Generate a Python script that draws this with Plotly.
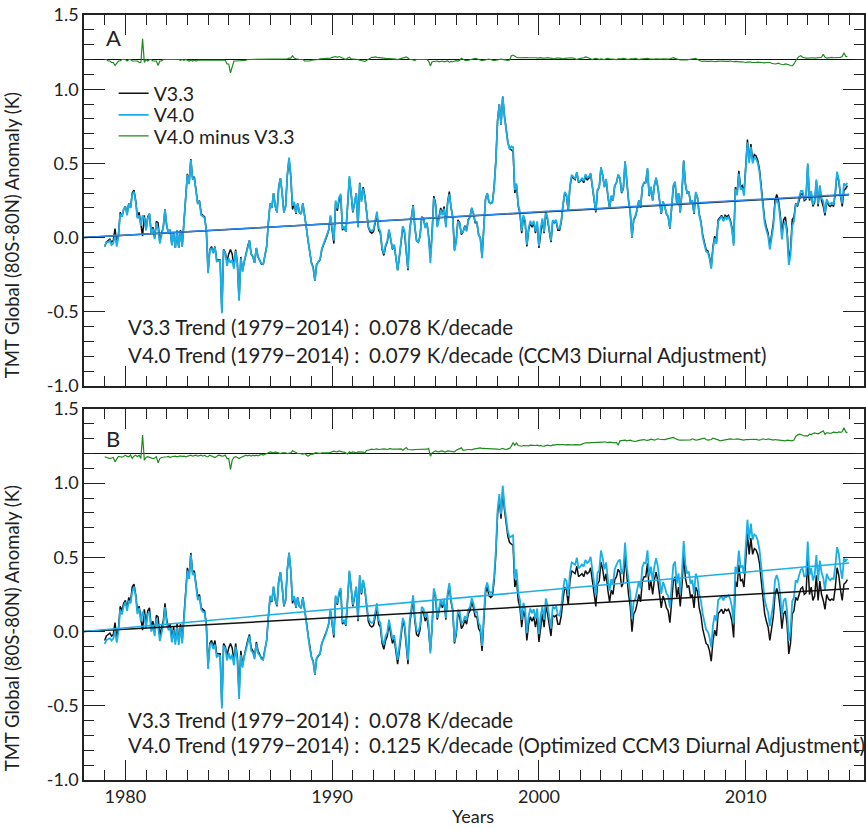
import numpy as np
import plotly.graph_objects as go

# ---------------------------------------------------------------------------
# Monthly TMT global (80S-80N) anomalies, Jan 1979 - Dec 2014 (K)
# ---------------------------------------------------------------------------
FIRST_YEAR = 1979

v33 = [
    -0.06, -0.03, -0.02, -0.01, -0.03, -0.02, 0.06, -0.04, 0.02, 0.17, 0.14, 0.19,   # 1979
    0.21, 0.16, 0.23, 0.20, 0.30, 0.32, 0.25, 0.14, 0.17, 0.10, 0.01, 0.15,          # 1980
    0.05, 0.14, 0.16, 0.03, 0.07, 0.00, 0.11, 0.10, -0.03, 0.03, 0.07, 0.19,         # 1981
    0.08, 0.03, 0.05, -0.05, 0.03, -0.07, 0.05, -0.07, 0.05, -0.06, 0.12, 0.23,      # 1982
    0.43, 0.37, 0.53, 0.40, 0.41, 0.32, 0.23, 0.25, 0.16, 0.15, 0.14, 0.05,          # 1983
    -0.23, -0.08, -0.06, -0.10, -0.06, -0.15, -0.15, -0.15, -0.50, -0.08, -0.10, -0.16,  # 1984
    -0.11, -0.08, -0.11, -0.20, -0.08, -0.17, -0.42, -0.13, -0.22, -0.15, -0.11, -0.06,  # 1985
    -0.02, -0.11, -0.13, -0.17, -0.07, -0.13, -0.15, -0.18, -0.18, -0.12, -0.06, 0.10,   # 1986
    0.23, 0.20, 0.30, 0.21, 0.17, 0.34, 0.40, 0.30, 0.17, 0.21, 0.42, 0.53,          # 1987
    0.41, 0.19, 0.23, 0.16, 0.23, 0.17, 0.16, 0.23, 0.16, 0.07, -0.02, -0.10,        # 1988
    -0.17, -0.20, -0.29, -0.18, -0.16, -0.15, -0.08, -0.05, -0.03, 0.01, 0.05, 0.14, # 1989
    0.05, -0.04, 0.23, 0.18, 0.25, 0.28, 0.05, 0.07, 0.04, 0.23, 0.40, 0.30,         # 1990
    0.17, 0.23, 0.30, 0.07, 0.37, 0.25, 0.34, 0.28, 0.16, 0.07, 0.04, 0.03,          # 1991
    0.04, 0.10, 0.16, 0.05, 0.03, -0.08, -0.12, -0.06, -0.03, 0.05, -0.02, -0.08,    # 1992
    -0.05, -0.15, -0.22, -0.13, -0.02, 0.07, 0.03, -0.11, -0.22, 0.05, 0.14, 0.22,   # 1993
    0.07, -0.02, -0.03, 0.01, 0.14, 0.13, 0.07, 0.10, 0.01, -0.13, 0.03, 0.28,       # 1994
    0.23, 0.08, 0.14, 0.20, 0.16, 0.21, 0.08, 0.24, 0.31, 0.20, 0.14, -0.08,         # 1995
    -0.02, 0.12, 0.10, 0.02, 0.04, 0.08, 0.05, 0.12, 0.14, 0.20, 0.16, 0.10,         # 1996
    0.10, 0.02, 0.00, -0.13, 0.07, 0.26, 0.30, 0.24, 0.23, 0.24, 0.34, 0.52,         # 1997
    0.79, 0.90, 0.76, 0.95, 0.82, 0.74, 0.64, 0.60, 0.59, 0.58, 0.30, 0.35,          # 1998
    0.21, 0.16, 0.03, 0.14, 0.10, -0.06, 0.05, 0.10, 0.07, 0.10, 0.03, 0.10,         # 1999
    -0.07, 0.05, 0.12, 0.03, 0.17, 0.12, 0.05, -0.03, 0.11, 0.10, 0.11, 0.05,        # 2000
    0.05, 0.11, 0.22, 0.30, 0.28, 0.18, 0.34, 0.41, 0.40, 0.39, 0.44, 0.37,          # 2001
    0.38, 0.39, 0.37, 0.41, 0.39, 0.40, 0.43, 0.34, 0.23, 0.17, 0.32, 0.34,          # 2002
    0.47, 0.42, 0.34, 0.39, 0.28, 0.20, 0.28, 0.25, 0.35, 0.37, 0.42, 0.40,          # 2003
    0.30, 0.33, 0.51, 0.35, 0.25, 0.17, 0.00, 0.12, 0.14, 0.19, 0.25, 0.20,          # 2004
    0.34, 0.37, 0.37, 0.46, 0.28, 0.34, 0.25, 0.35, 0.40, 0.34, 0.25, 0.16,          # 2005
    0.24, 0.21, 0.16, 0.14, 0.06, 0.23, 0.34, 0.37, 0.23, 0.30, 0.17, 0.31,          # 2006
    0.52, 0.36, 0.30, 0.31, 0.23, 0.25, 0.16, 0.30, 0.27, 0.16, 0.11, 0.02,          # 2007
    -0.03, -0.08, -0.09, -0.13, -0.20, -0.06, 0.01, -0.03, 0.12, 0.14, 0.15, 0.12,   # 2008
    0.15, 0.14, 0.15, 0.12, 0.07, -0.04, 0.34, 0.30, 0.45, 0.34, 0.35, 0.30,         # 2009
    0.50, 0.66, 0.52, 0.63, 0.52, 0.56, 0.55, 0.52, 0.46, 0.34, 0.25, 0.12,          # 2010
    0.07, 0.03, -0.06, 0.03, 0.10, 0.25, 0.29, 0.25, 0.16, 0.02, 0.12, 0.14,         # 2011
    0.05, -0.15, -0.08, 0.12, 0.14, 0.23, 0.21, 0.25, 0.29, 0.30, 0.25, 0.26,        # 2012
    0.49, 0.25, 0.30, 0.21, 0.24, 0.38, 0.21, 0.34, 0.25, 0.21, 0.15, 0.25,          # 2013
    0.22, 0.21, 0.22, 0.21, 0.30, 0.43, 0.38, 0.28, 0.21, 0.32, 0.33, 0.35,          # 2014
]

# V4.0 minus V3.3, CCM3 diurnal adjustment (panel A)
diff_ccm3 = [
    0.0, 0.0, -0.01, -0.01, -0.02, -0.02, -0.04, -0.02, -0.01, -0.01, 0.0, 0.0,       # 1979
    0.0, -0.01, 0.0, 0.0, -0.01, -0.01, -0.01, -0.01, -0.02, -0.02, 0.14, -0.02,      # 1980
    0.0, -0.01, 0.0, 0.0, -0.01, -0.01, -0.01, -0.04, -0.01, -0.01, 0.0, 0.0,         # 1981
    0.0, 0.0, 0.005, 0.0, 0.005, 0.0, 0.0, 0.0, -0.005, 0.0, -0.005, 0.0,             # 1982
    -0.005, -0.01, -0.005, -0.01, -0.005, -0.01, -0.005, -0.005, -0.01, -0.005, -0.01, -0.005,  # 1983
    -0.01, -0.005, -0.01, -0.005, -0.005, -0.01, -0.005, -0.005, -0.01, -0.005, -0.005, -0.03,  # 1984
    -0.03, -0.09, -0.04, -0.01, -0.01, -0.01, -0.005, -0.01, -0.01, -0.005, -0.005, 0.0,        # 1985
    0.0, 0.0, 0.005, 0.0, 0.0, 0.0, 0.0, 0.005, 0.0, 0.0, 0.0, 0.005,                 # 1986
    0.0, 0.0, 0.0, 0.0, 0.0, 0.0, 0.0, 0.0, 0.0, 0.0, 0.005, 0.01,                    # 1987
    0.01, 0.025, 0.01, 0.005, 0.0, 0.0, 0.0, 0.0, -0.01, -0.01, -0.015, -0.01,        # 1988
    -0.005, -0.005, 0.0, 0.0, 0.0, 0.005, 0.005, 0.005, 0.01, 0.01, 0.005, 0.01,      # 1989
    0.015, 0.02, 0.02, 0.015, 0.02, 0.015, 0.01, 0.005, 0.0, 0.01, 0.015, 0.005,      # 1990
    0.005, 0.005, 0.0, 0.0, -0.005, -0.01, -0.01, -0.013, -0.005, 0.005, 0.01, 0.015, # 1991
    0.015, 0.018, 0.015, 0.015, 0.012, 0.01, 0.01, 0.008, 0.008, 0.005, 0.005, 0.005, # 1992
    0.003, 0.003, 0.0, 0.003, 0.005, 0.008, 0.015, 0.018, 0.01, 0.0, 0.0, -0.005,     # 1993
    -0.005, 0.0, 0.0, 0.0, -0.005, 0.0, -0.005, 0.0, -0.01, -0.043, -0.015, -0.012,   # 1994
    -0.013, -0.01, -0.015, -0.012, -0.01, -0.015, -0.012, -0.01, -0.018, -0.013, -0.015, -0.01,  # 1995
    -0.008, -0.01, -0.005, 0.008, 0.0, -0.005, -0.008, -0.005, -0.002, 0.0, 0.005, 0.008,        # 1996
    0.005, 0.0, -0.005, -0.008, -0.005, -0.002, 0.0, 0.002, 0.0, -0.005, -0.008, -0.005,         # 1997
    -0.005, 0.0, 0.002, 0.0, -0.005, -0.008, -0.005, -0.003, 0.025, 0.03, 0.02, 0.015,           # 1998
    0.012, 0.013, 0.013, 0.012, 0.015, 0.013, 0.012, 0.013, 0.015, 0.013, 0.012, 0.01,  # 1999
    0.012, 0.013, 0.01, 0.008, 0.01, 0.013, 0.012, 0.01, 0.008, 0.005, 0.01, 0.012,    # 2000
    0.01, 0.008, 0.005, 0.008, 0.01, 0.008, 0.01, 0.012, 0.01, 0.005, 0.0, 0.005,      # 2001
    0.005, 0.01, 0.012, 0.018, 0.015, 0.01, 0.005, 0.0, 0.005, 0.008, 0.005, 0.0,      # 2002
    0.005, 0.003, 0.0, 0.005, 0.008, 0.005, 0.003, 0.005, 0.003, 0.0, 0.005, 0.003,   # 2003
    0.005, 0.008, 0.005, 0.003, 0.0, 0.005, 0.003, 0.005, 0.008, 0.003, 0.0, 0.003,   # 2004
    0.005, 0.003, 0.005, 0.008, 0.005, 0.003, 0.0, 0.003, 0.005, 0.003, 0.0, 0.003,   # 2005
    0.005, 0.003, 0.002, 0.003, 0.005, 0.008, 0.013, 0.008, 0.002, 0.0, -0.002, -0.003,   # 2006
    -0.003, 0.0, -0.002, 0.0, 0.002, 0.003, 0.005, 0.008, 0.0, -0.008, -0.01, -0.013,     # 2007
    -0.01, -0.013, -0.01, -0.012, -0.01, -0.013, -0.015, -0.013, -0.012, -0.01, -0.008, -0.01,      # 2008
    -0.013, -0.015, -0.012, -0.01, -0.013, -0.015, -0.013, -0.015, -0.018, -0.016, -0.015, -0.018, # 2009
    -0.02, -0.018, -0.016, -0.018, -0.02, -0.022, -0.02, -0.018, -0.02, -0.023, -0.025, -0.022,    # 2010
    -0.02, -0.018, -0.02, -0.025, -0.028, -0.03, -0.028, -0.025, -0.03, -0.032, -0.035, -0.03,     # 2011
    -0.03, -0.035, -0.04, -0.043, -0.03, -0.01, 0.01, 0.02, 0.025, 0.015, 0.01, 0.01,  # 2012
    0.01, 0.012, 0.015, 0.012, 0.01, 0.012, 0.015, 0.012, 0.015, 0.036, 0.015, 0.01,  # 2013
    0.012, 0.018, 0.015, 0.012, 0.013, 0.015, 0.012, 0.015, 0.02, 0.045, 0.022, 0.018, # 2014
]

# V4.0 minus V3.3, optimized CCM3 diurnal adjustment (panel B)
diff_opt = [
    -0.022, -0.027, -0.03, -0.034, -0.03, -0.027, -0.056, -0.034, -0.02, -0.022, -0.025, -0.02,   # 1979
    -0.011, -0.02, -0.022, -0.01, -0.033, -0.018, -0.011, -0.022, -0.011, -0.033, 0.124, -0.045,  # 1980
    -0.027, -0.022, -0.027, -0.03, -0.034, -0.03, -0.022, -0.063, -0.034, -0.027, -0.027, -0.025, # 1981
    -0.022, -0.02, -0.027, -0.022, -0.02, -0.018, -0.022, -0.02, -0.016, -0.02, -0.018, -0.022,   # 1982
    -0.018, -0.016, -0.011, -0.018, -0.016, -0.011, -0.018, -0.013, -0.011, -0.018, -0.011, -0.022,  # 1983
    -0.022, -0.011, -0.016, -0.018, -0.027, -0.02, -0.011, -0.013, -0.018, -0.016, -0.011, -0.034,  # 1984
    -0.034, -0.108, -0.045, -0.027, -0.022, -0.027, -0.034, -0.027, -0.022, -0.018, -0.011, -0.016, # 1985
    -0.011, -0.018, -0.011, -0.016, -0.011, -0.016, -0.011, -0.005, -0.011, -0.004, 0.0, 0.005,    # 1986
    0.011, 0.005, 0.004, 0.011, 0.007, 0.005, 0.0, 0.004, 0.005, 0.004, 0.0, 0.0,          # 1987
    0.004, 0.018, 0.01, 0.004, 0.0, 0.0, -0.004, -0.004, 0.0, -0.01, -0.018, -0.01,       # 1988
    -0.004, -0.004, 0.004, 0.004, 0.0, 0.0, 0.004, 0.004, 0.0, 0.004, 0.004, 0.007,       # 1989
    0.011, 0.016, 0.013, 0.011, 0.018, 0.013, 0.011, 0.009, 0.004, -0.004, 0.011, 0.005,  # 1990
    0.011, 0.009, 0.004, 0.011, 0.011, 0.011, 0.009, 0.004, 0.022, 0.022, 0.027, 0.029,   # 1991
    0.027, 0.029, 0.031, 0.027, 0.029, 0.027, 0.031, 0.029, 0.027, 0.031, 0.033, 0.029,   # 1992
    0.027, 0.029, 0.029, 0.031, 0.031, 0.022, 0.029, 0.04, 0.027, 0.025, 0.022, 0.025,    # 1993
    0.027, 0.027, 0.029, 0.029, 0.027, 0.025, 0.029, 0.029, 0.034, -0.018, 0.004, 0.011,  # 1994
    0.018, 0.013, 0.011, 0.016, 0.018, 0.011, 0.011, 0.018, 0.016, 0.013, 0.011, 0.011,   # 1995
    0.022, 0.027, 0.034, 0.038, 0.022, 0.025, 0.027, 0.027, 0.027, 0.025, 0.029, 0.031,   # 1996
    0.034, 0.036, 0.038, 0.034, 0.034, 0.029, 0.031, 0.034, 0.031, 0.029, 0.031, 0.031,   # 1997
    0.029, 0.027, 0.031, 0.034, 0.029, 0.027, 0.031, 0.034, 0.05, 0.072, 0.056, 0.07,     # 1998
    0.054, 0.05, 0.049, 0.054, 0.052, 0.05, 0.052, 0.056, 0.054, 0.052, 0.054, 0.056,     # 1999
    0.052, 0.054, 0.049, 0.05, 0.054, 0.056, 0.054, 0.052, 0.058, 0.056, 0.06, 0.061,     # 2000
    0.058, 0.063, 0.06, 0.058, 0.061, 0.06, 0.058, 0.056, 0.058, 0.06, 0.058, 0.056,      # 2001
    0.058, 0.063, 0.068, 0.072, 0.072, 0.072, 0.074, 0.076, 0.072, 0.074, 0.076, 0.074,   # 2002
    0.076, 0.076, 0.079, 0.076, 0.074, 0.076, 0.074, 0.072, 0.072, 0.074, 0.056, 0.085,   # 2003
    0.087, 0.09, 0.09, 0.085, 0.088, 0.09, 0.085, 0.083, 0.081, 0.085, 0.09, 0.09,        # 2004
    0.092, 0.094, 0.09, 0.088, 0.092, 0.097, 0.094, 0.09, 0.094, 0.099, 0.096, 0.094,     # 2005
    0.094, 0.094, 0.097, 0.099, 0.101, 0.104, 0.108, 0.101, 0.094, 0.092, 0.09, 0.09,     # 2006
    0.09, 0.092, 0.094, 0.09, 0.092, 0.099, 0.094, 0.09, 0.092, 0.094, 0.096, 0.103,      # 2007
    0.103, 0.094, 0.09, 0.092, 0.094, 0.103, 0.1, 0.099, 0.092, 0.085, 0.088, 0.09,       # 2008
    0.092, 0.094, 0.096, 0.099, 0.097, 0.094, 0.096, 0.099, 0.096, 0.094, 0.092, 0.09,    # 2009
    0.094, 0.094, 0.099, 0.097, 0.099, 0.094, 0.096, 0.092, 0.09, 0.094, 0.099, 0.096,    # 2010
    0.094, 0.099, 0.097, 0.092, 0.09, 0.094, 0.092, 0.09, 0.088, 0.085, 0.088, 0.085,     # 2011
    0.09, 0.088, 0.083, 0.085, 0.09, 0.115, 0.124, 0.13, 0.128, 0.124, 0.118, 0.12,       # 2012
    0.117, 0.13, 0.128, 0.135, 0.139, 0.135, 0.133, 0.139, 0.148, 0.153, 0.13, 0.139,     # 2013
    0.139, 0.135, 0.139, 0.144, 0.142, 0.139, 0.146, 0.142, 0.146, 0.173, 0.146, 0.139,   # 2014
]

# Decadal trends (K/decade) and their value at the start of the axis (K)
trend_labels = ["V3.3 Trend (1979\u22122014) :", "V4.0 Trend (1979\u22122014) :"]
trends_a = [0.078, 0.079]
trends_b = [0.078, 0.125]
trend_notes = ["(CCM3 Diurnal Adjustment)", "(Optimized CCM3 Diurnal Adjustment)"]
trend_origin = 0.0
trend_span = [1978, 2015]

DIFF_OFFSET = 1.2          # difference series is drawn about this level
X_RANGE = [1978, 2015.72]
Y_RANGE = [-1.0, 1.5]
x_ticks = [1980, 1990, 2000, 2010]
y_ticks = [-1.0, -0.5, 0.0, 0.5, 1.0, 1.5]
y_tick_text = ["-1.0", "-0.5", "0.0", "0.5", "1.0", "1.5"]

# ---------------------------------------------------------------------------
v33 = np.array(v33)
diff_ccm3 = np.array(diff_ccm3)
diff_opt = np.array(diff_opt)
t = FIRST_YEAR + np.arange(len(v33)) / 12.0
v40_a = v33 + diff_ccm3
v40_b = v33 + diff_opt

BLACK = "#111111"
CYAN = "#1aafe6"
GREEN = "#1e8a1e"
TREND_BLUE = "#2b8af0"
AXIS = "#222222"
FONT = "Lato"

fig = go.Figure()


def add_panel(xa, ya, v40, diff, slopes, show_legend, v40_trend_color):
    xs = f"x{xa}" if xa > 1 else "x"
    ys = f"y{ya}" if ya > 1 else "y"
    # each legend entry lives in its own legend box so the rows can be spaced
    fig.add_trace(go.Scatter(x=t, y=v33, mode="lines", name="V3.3",
                             line=dict(color=BLACK, width=1.5),
                             xaxis=xs, yaxis=ys, showlegend=show_legend,
                             legend="legend"))
    fig.add_trace(go.Scatter(x=t, y=v40, mode="lines", name="V4.0",
                             line=dict(color=CYAN, width=1.8),
                             xaxis=xs, yaxis=ys, showlegend=show_legend,
                             legend="legend2"))
    fig.add_trace(go.Scatter(x=t, y=DIFF_OFFSET + diff, mode="lines",
                             name="V4.0 minus V3.3",
                             line=dict(color=GREEN, width=1.2),
                             xaxis=xs, yaxis=ys, showlegend=show_legend,
                             legend="legend3"))
    tx = np.array(trend_span, dtype=float)
    for slope, color in zip(slopes, [BLACK, v40_trend_color]):
        ty = trend_origin + slope / 10.0 * (tx - trend_span[0])
        fig.add_trace(go.Scatter(x=tx, y=ty, mode="lines",
                                 line=dict(color=color, width=1.5),
                                 xaxis=xs, yaxis=ys, showlegend=False,
                                 hoverinfo="skip"))
    # zero line of the difference series
    fig.add_shape(type="line", xref=f"{xs} domain", yref=ys, x0=0, x1=1,
                  y0=DIFF_OFFSET, y1=DIFF_OFFSET, layer="below",
                  line=dict(color=BLACK, width=1.2))


add_panel(1, 1, v40_a, diff_ccm3, trends_a, True, TREND_BLUE)
add_panel(2, 2, v40_b, diff_opt, trends_b, False, CYAN)

top_dom = [0.515, 1.0]
bot_dom = [0.0, 0.485]

xaxis_style = dict(
    range=X_RANGE, tickvals=x_ticks, ticks="inside", ticklen=20, tickwidth=1.3,
    tickcolor=AXIS, showline=True, linecolor=AXIS, linewidth=1.5,
    mirror="ticks", showgrid=False, zeroline=False,
    minor=dict(dtick=1, tick0=1978, ticks="inside", ticklen=10,
               tickwidth=1.1, tickcolor=AXIS, showgrid=False),
    tickfont=dict(family=FONT, size=18, color=AXIS),
)
yaxis_style = dict(
    range=Y_RANGE, tickvals=y_ticks, ticktext=y_tick_text, ticks="inside",
    ticklen=21, tickwidth=1.3, tickcolor=AXIS, showline=True, linecolor=AXIS,
    linewidth=1.5, mirror="ticks", showgrid=False, zeroline=False,
    minor=dict(dtick=0.1, tick0=0, ticks="inside", ticklen=10,
               tickwidth=1.1, tickcolor=AXIS, showgrid=False),
    tickfont=dict(family=FONT, size=18, color=AXIS),
)


def legend_box(ytop):
    return dict(x=0.038, y=ytop, xanchor="left", yanchor="top",
                bgcolor="rgba(0,0,0,0)",
                font=dict(family=FONT, size=19.5, color=AXIS),
                tracegroupgap=0, itemwidth=30)


fig.update_layout(
    width=866, height=828,
    margin=dict(l=84, r=0, t=15, b=48),
    paper_bgcolor="white", plot_bgcolor="white",
    font=dict(family=FONT, size=18, color=AXIS),
    xaxis=dict(xaxis_style, anchor="y", domain=[0, 1], showticklabels=False),
    yaxis=dict(yaxis_style, anchor="x", domain=top_dom),
    xaxis2=dict(xaxis_style, anchor="y2", domain=[0, 1], matches="x"),
    yaxis2=dict(yaxis_style, anchor="x2", domain=bot_dom),
    legend=legend_box(0.9229),
    legend2=legend_box(0.8945),
    legend3=legend_box(0.8670),
    showlegend=True,
)

ann = []
# panel letters
ann.append(dict(text="A", x=0.026, y=0.97, xref="paper", yref="paper",
                xanchor="left", yanchor="middle", showarrow=False,
                font=dict(family=FONT, size=22, color=AXIS)))
ann.append(dict(text="B", x=0.026, y=0.447, xref="paper", yref="paper",
                xanchor="left", yanchor="middle", showarrow=False,
                font=dict(family=FONT, size=22, color=AXIS)))
# y titles
for yc in (0.7124, 0.1987):
    ann.append(dict(text="TMT Global (80S-80N) Anomaly (K)", x=-0.092, y=yc,
                    xref="paper", yref="paper", xanchor="center",
                    yanchor="middle", textangle=-90, showarrow=False,
                    font=dict(family=FONT, size=18.5, color=AXIS)))
# x title
ann.append(dict(text="Years", x=0.4987, y=-0.047, xref="paper", yref="paper",
                xanchor="center", yanchor="middle", showarrow=False,
                font=dict(family=FONT, size=18, color=AXIS)))

# trend statements
rows = [(trends_a, [0.592, 0.5556], [None, trend_notes[0]]),
        (trends_b, [0.0784, 0.0458], [None, trend_notes[1]])]
for slopes, ys, notes in rows:
    for lab, slope, yv, note in zip(trend_labels, slopes, ys, notes):
        ann.append(dict(text=lab, x=0.0537, y=yv, xref="paper", yref="paper",
                        xanchor="left", yanchor="middle", showarrow=False,
                        font=dict(family=FONT, size=20.5, color=AXIS)))
        val = f"{slope:.3f} K/decade" + (f" {note}" if note else "")
        ann.append(dict(text=val, x=0.3632, y=yv, xref="paper", yref="paper",
                        xanchor="left", yanchor="middle", showarrow=False,
                        font=dict(family=FONT, size=20.5, color=AXIS)))

fig.update_layout(annotations=ann)
fig.write_html("out.html")
